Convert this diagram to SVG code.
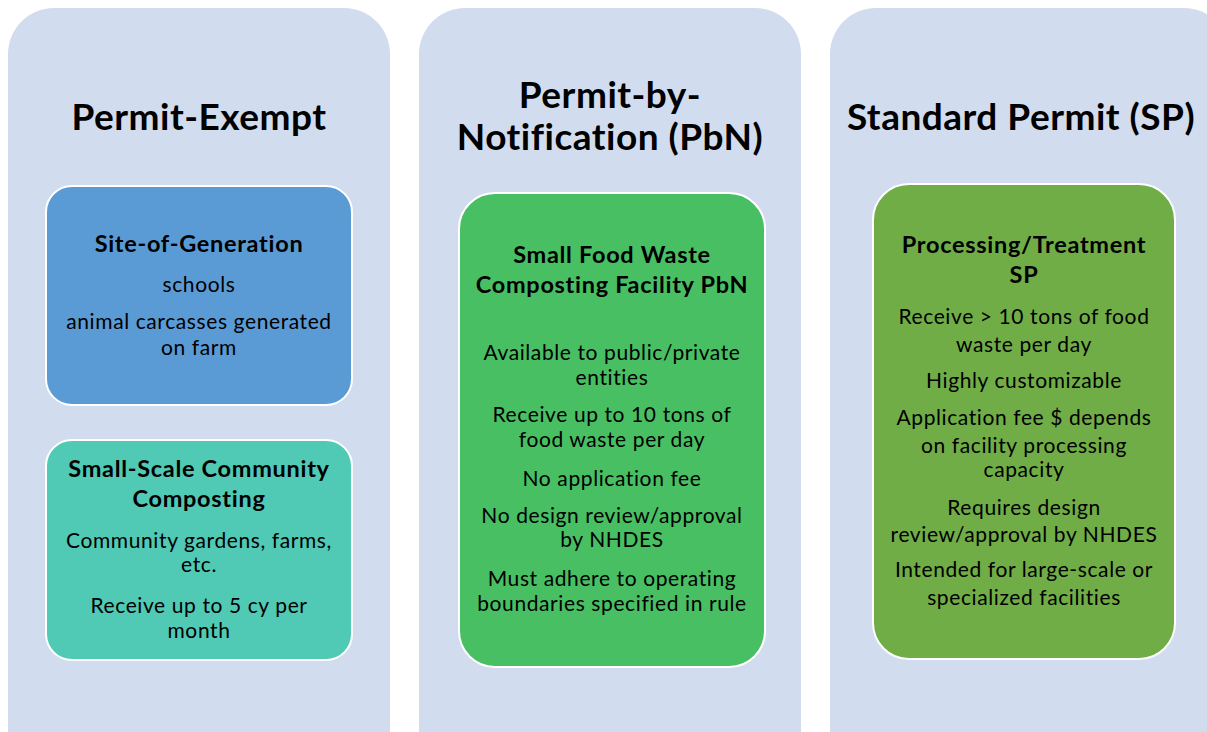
<svg xmlns="http://www.w3.org/2000/svg" width="1207" height="732" viewBox="0 0 1207 732">
  <style>
    .panel { fill: #D1DCEE; }
    .box { stroke: #FFFFFF; stroke-width: 2; }
    text { font-family: Lato, "Open Sans", "Liberation Sans", sans-serif; fill: #000; text-anchor: middle; }
    .title { font-size: 37px; font-weight: bold; letter-spacing: 0.5px; }
    .head { font-size: 23.5px; font-weight: bold; letter-spacing: 0.7px; }
    .body { font-size: 21px; letter-spacing: 0.6px; }
  </style>
  <rect width="1207" height="732" fill="#FFFFFF"/>

  <!-- column panels -->
  <g id="col-exempt">
    <rect class="panel" x="8" y="8" width="382" height="780" rx="46"/>
    <text class="title" x="199" y="130">Permit-Exempt</text>
  </g>
  <g id="col-pbn">
    <rect class="panel" x="419" y="8" width="382" height="780" rx="46"/>
    <text class="title" x="610" y="108">Permit-by-</text>
    <text class="title" x="610" y="150">Notification (PbN)</text>
  </g>
  <g id="col-sp">
    <rect class="panel" x="830" y="8" width="400" height="780" rx="46"/>
    <text class="title" x="1021" y="130">Standard Permit (SP)</text>
  </g>

  <g id="site-of-generation">
    <rect class="box" x="46" y="186" width="306" height="219" rx="26" fill="#5B9BD5"/>
    <text class="head" x="199" y="252">Site-of-Generation</text>
    <text class="body" x="199" y="292">schools</text>
    <text class="body" x="199" y="329">animal carcasses generated</text>
    <text class="body" x="199" y="355">on farm</text>
  </g>

  <g id="community-composting">
    <rect class="box" x="46" y="440" width="306" height="220" rx="26" fill="#50C9B5"/>
    <text class="head" x="199" y="477">Small-Scale Community</text>
    <text class="head" x="199" y="507">Composting</text>
    <text class="body" x="199" y="548">Community gardens, farms,</text>
    <text class="body" x="199" y="572">etc.</text>
    <text class="body" x="199" y="613">Receive up to 5 cy per</text>
    <text class="body" x="199" y="638">month</text>
  </g>

  <g id="food-waste-pbn">
    <rect class="box" x="459" y="193" width="306" height="474" rx="36" fill="#48BF62"/>
    <text class="head" x="612" y="263">Small Food Waste</text>
    <text class="head" x="612" y="293">Composting Facility PbN</text>
    <text class="body" x="612" y="360">Available to public/private</text>
    <text class="body" x="612" y="385">entities</text>
    <text class="body" x="612" y="422">Receive up to 10 tons of</text>
    <text class="body" x="612" y="447">food waste per day</text>
    <text class="body" x="612" y="486">No application fee</text>
    <text class="body" x="612" y="523">No design review/approval</text>
    <text class="body" x="612" y="547">by NHDES</text>
    <text class="body" x="612" y="586">Must adhere to operating</text>
    <text class="body" x="612" y="611">boundaries specified in rule</text>
  </g>

  <g id="processing-sp">
    <rect class="box" x="873" y="184" width="302" height="475" rx="36" fill="#70AD47"/>
    <text class="head" x="1024" y="253">Processing/Treatment</text>
    <text class="head" x="1024" y="283">SP</text>
    <text class="body" x="1024" y="324">Receive &gt; 10 tons of food</text>
    <text class="body" x="1024" y="352">waste per day</text>
    <text class="body" x="1024" y="388">Highly customizable</text>
    <text class="body" x="1024" y="425">Application fee $ depends</text>
    <text class="body" x="1024" y="453">on facility processing</text>
    <text class="body" x="1024" y="477">capacity</text>
    <text class="body" x="1024" y="515">Requires design</text>
    <text class="body" x="1024" y="542">review/approval by NHDES</text>
    <text class="body" x="1024" y="577">Intended for large-scale or</text>
    <text class="body" x="1024" y="605">specialized facilities</text>
  </g>
</svg>
